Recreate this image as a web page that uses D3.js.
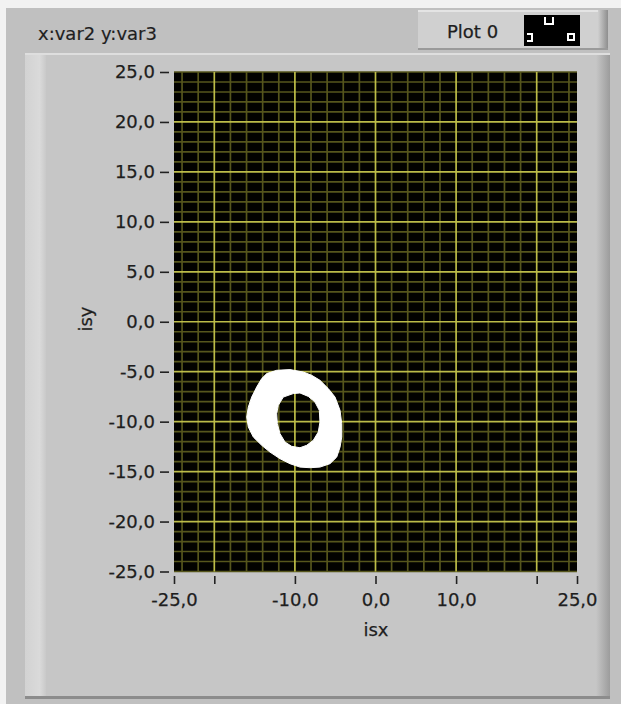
<!DOCTYPE html>
<html><head><meta charset="utf-8">
<script src="https://cdn.jsdelivr.net/npm/d3@7"></script>
<style>
html,body{margin:0;padding:0;background:#f2f2f2;}
svg{display:block;}
text{font-family:"DejaVu Sans",Verdana,sans-serif;fill:#1e1e1e;}
</style></head><body>
<svg id="chart" width="621" height="704"></svg>
<script>
// ---- data ----
const chartTitle = "x:var2 y:var3";
const legendLabel = "Plot 0";
const xAxisLabel = "isx";
const yAxisLabel = "isy";
const xDomain = [-25, 25];
const yDomain = [-25, 25];
const xTicks = [-25, -20, -10, 0, 10, 20, 25];
const xTickLabels = ["-25,0", "", "-10,0", "0,0", "10,0", "", "25,0"];
const yTicks = [25, 20, 15, 10, 5, 0, -5, -10, -15, -20, -25];
const xMajorGrid = [-20, -10, 0, 10, 20];
const yMajorGrid = [20, 15, 10, 5, 0, -5, -10, -15, -20];
const xMinorStep = 2;
const yMinorStep = 1;
// ring of plotted points (outer and inner outline of the filled region)
const ringOuter = [[-13.50,-5.19],[-12.26,-4.86],[-10.61,-4.79],[-8.96,-5.03],[-7.92,-5.36],[-6.89,-5.86],
  [-5.86,-6.69],[-5.02,-7.54],[-4.40,-8.87],[-4.19,-10.20],[-4.19,-11.54],[-4.40,-12.55],[-4.81,-13.55],
  [-5.65,-14.21],[-6.89,-14.55],[-8.13,-14.61],[-9.37,-14.55],[-10.61,-14.21],[-11.85,-13.71],[-13.09,-13.05],
  [-14.12,-12.37],[-15.16,-11.54],[-15.78,-10.54],[-15.98,-9.54],[-15.78,-8.54],[-15.36,-7.54],[-14.74,-6.53],
  [-14.12,-5.69]];
const ringInner = [[-10.20,-7.19],[-11.44,-7.54],[-12.06,-8.37],[-12.26,-9.20],[-12.18,-10.20],[-11.85,-11.20],
  [-11.23,-12.04],[-10.40,-12.47],[-9.37,-12.61],[-8.54,-12.37],[-7.72,-11.87],[-7.10,-11.04],[-6.89,-10.04],
  [-6.97,-8.87],[-7.51,-8.04],[-8.34,-7.47],[-9.37,-7.13]];

// ---- drawing ----
const svg = d3.select("#chart");
const defs = svg.append("defs");
const gR = defs.append("linearGradient").attr("id","rightShade").attr("x1",0).attr("x2",1).attr("y1",0).attr("y2",0);
gR.append("stop").attr("offset","0%").attr("stop-color","#c6c6c6");
gR.append("stop").attr("offset","100%").attr("stop-color","#9c9c9c");
const gL = defs.append("linearGradient").attr("id","leftShade").attr("x1",0).attr("x2",1).attr("y1",0).attr("y2",0);
gL.append("stop").attr("offset","0%").attr("stop-color","#d2d2d2");
gL.append("stop").attr("offset","70%").attr("stop-color","#dadada");
gL.append("stop").attr("offset","100%").attr("stop-color","#c9c9c9");
const gLeg = defs.append("linearGradient").attr("id","legShade").attr("x1",0).attr("x2",1).attr("y1",0).attr("y2",0);
gLeg.append("stop").attr("offset","0%").attr("stop-color","#cfcfcf");
gLeg.append("stop").attr("offset","100%").attr("stop-color","#8e8e8e");

// outer frame
svg.append("rect").attr("x",6).attr("y",8).attr("width",615).attr("height",696).attr("fill","#c0c0c0");
// inner panel
svg.append("rect").attr("x",25).attr("y",53).attr("width",585).attr("height",646).attr("fill","#c6c6c6");
svg.append("rect").attr("x",25).attr("y",53).attr("width",21).attr("height",645).attr("fill","url(#leftShade)");
svg.append("rect").attr("x",596).attr("y",53).attr("width",14).attr("height",645).attr("fill","url(#rightShade)");
svg.append("rect").attr("x",25).attr("y",53).attr("width",585).attr("height",2).attr("fill","#dedede");
svg.append("rect").attr("x",25).attr("y",696).attr("width",585).attr("height",3).attr("fill","#8c8c8c");

// legend box
svg.append("rect").attr("x",418).attr("y",10).attr("width",190).attr("height",40).attr("fill","#d0d0d0");
svg.append("rect").attr("x",418).attr("y",10).attr("width",190).attr("height",2).attr("fill","#e4e4e4");
svg.append("rect").attr("x",598).attr("y",10).attr("width",10).attr("height",40).attr("fill","url(#legShade)");
svg.append("rect").attr("x",418).attr("y",48).attr("width",190).attr("height",2).attr("fill","#9a9a9a");
svg.append("text").attr("x",447).attr("y",38).attr("font-size",18).attr("stroke","#1e1e1e").attr("stroke-width",0.25).text(legendLabel);
svg.append("rect").attr("x",524).attr("y",15).attr("width",56).attr("height",31).attr("fill","#000");
svg.append("path").attr("d","M545,17V24H553V17").attr("fill","none").attr("stroke","#fff").attr("stroke-width",2);
svg.append("path").attr("d","M527,34H532V41H527").attr("fill","none").attr("stroke","#fff").attr("stroke-width",2);
svg.append("rect").attr("x",568).attr("y",34).attr("width",6).attr("height",6).attr("fill","none").attr("stroke","#fff").attr("stroke-width",2);

// title
svg.append("text").attr("x",38).attr("y",40).attr("font-size",18).attr("fill","#2a2a2a")
  .attr("stroke","#2a2a2a").attr("stroke-width",0.2).text(chartTitle);

// scales
const x = d3.scaleLinear().domain(xDomain).range([174, 577]);
const y = d3.scaleLinear().domain(yDomain).range([571.5, 72]);

// plot area
svg.append("rect").attr("x",x(xDomain[0])).attr("y",y(yDomain[1]))
  .attr("width",x(xDomain[1])-x(xDomain[0])).attr("height",y(yDomain[0])-y(yDomain[1])).attr("fill","#020200");

const grid = svg.append("g");
const xMinor = d3.range(xDomain[0]+1, xDomain[1], xMinorStep).filter(v => !xMajorGrid.includes(v));
const yMinor = d3.range(yDomain[0], yDomain[1]+0.001, yMinorStep).filter(v => !yMajorGrid.includes(v));
grid.selectAll(".xmin").data(xMinor).join("line")
  .attr("x1",d=>x(d)).attr("x2",d=>x(d)).attr("y1",y(yDomain[1])).attr("y2",y(yDomain[0]))
  .attr("stroke","#56561c").attr("stroke-width",1.7);
grid.selectAll(".ymin").data(yMinor).join("line")
  .attr("y1",d=>y(d)).attr("y2",d=>y(d)).attr("x1",x(xDomain[0])).attr("x2",x(xDomain[1]))
  .attr("stroke","#56561c").attr("stroke-width",1.7);
grid.selectAll(".xmaj").data(xMajorGrid).join("line")
  .attr("x1",d=>x(d)).attr("x2",d=>x(d)).attr("y1",y(yDomain[1])).attr("y2",y(yDomain[0]))
  .attr("stroke","#bcbc48").attr("stroke-width",1.7);
grid.selectAll(".ymaj").data(yMajorGrid).join("line")
  .attr("y1",d=>y(d)).attr("y2",d=>y(d)).attr("x1",x(xDomain[0])).attr("x2",x(xDomain[1]))
  .attr("stroke","#bcbc48").attr("stroke-width",1.7);

// ring
const line = d3.line().x(d=>x(d[0])).y(d=>y(d[1])).curve(d3.curveLinearClosed);
svg.append("path").attr("d", line(ringOuter) + line(ringInner))
  .attr("fill","#ffffff").attr("fill-rule","evenodd").attr("stroke","#ffffff").attr("stroke-width",1);

// axes
const loc = d3.formatLocale({decimal:",", thousands:".", grouping:[3], currency:["",""], minus:"-"});
const fmt = loc.format(".1f");

const yAx = svg.append("g").attr("transform","translate(169,0)")
  .call(d3.axisLeft(y).tickValues(yTicks).tickSizeInner(9).tickSizeOuter(0).tickPadding(5).tickFormat(fmt));
const xAx = svg.append("g").attr("transform","translate(0,576)")
  .call(d3.axisBottom(x).tickValues(xTicks).tickSizeInner(8).tickSizeOuter(0).tickPadding(9)
    .tickFormat((d,i) => xTickLabels[i]));
[yAx, xAx].forEach(g => {
  g.select(".domain").remove();
  g.selectAll(".tick line").attr("stroke","#222").attr("stroke-width",1.6);
  g.selectAll(".tick text").attr("font-size",18).attr("font-family","'DejaVu Sans',sans-serif")
    .attr("fill","#1e1e1e").attr("stroke","#1e1e1e").attr("stroke-width",0.25);
});

svg.append("text").attr("x",376).attr("y",636).attr("text-anchor","middle").attr("font-size",18)
  .attr("stroke","#1e1e1e").attr("stroke-width",0.25).text(xAxisLabel);
svg.append("text").attr("transform","translate(92,319) rotate(-90)").attr("text-anchor","middle").attr("font-size",18)
  .attr("stroke","#1e1e1e").attr("stroke-width",0.25).text(yAxisLabel);
</script>
</body></html>
